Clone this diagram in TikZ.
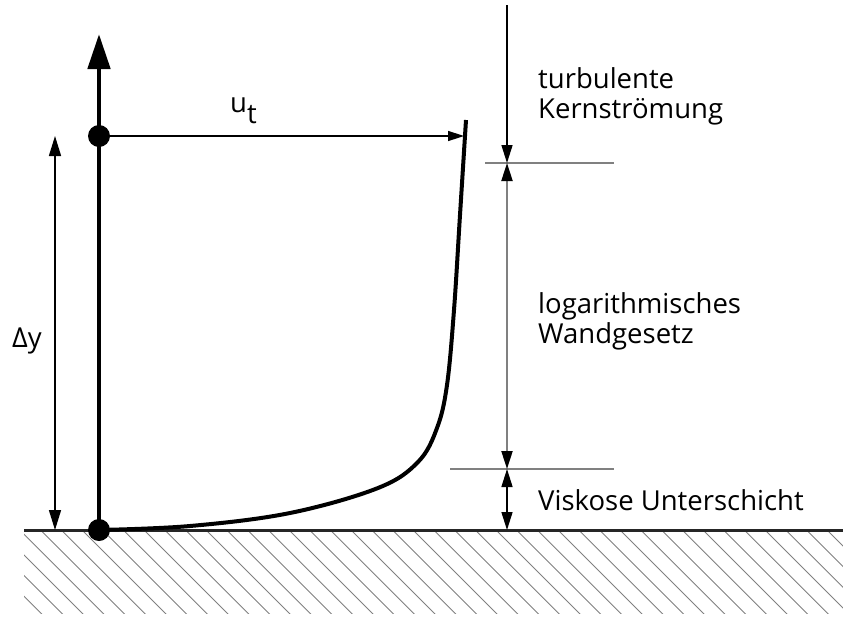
\documentclass[tikz,border=0pt]{standalone}
\usepackage{fontspec}
\setmainfont{Open Sans}
\usetikzlibrary{arrows.meta}
\begin{document}
\begin{tikzpicture}[x=1pt,y=-1pt,
  lbl/.style={anchor=base west,inner sep=0pt,font=\fontsize{27.5}{30}\selectfont},
  hatch/.style={draw=black!50,line width=0.9pt},
  wall/.style={line width=3pt,draw=black!85},
  axisline/.style={line width=4.8pt,-{Triangle[length=35pt,width=22pt]}},
  profile/.style={line width=4pt,line cap=butt},
  dimblack/.style={line width=1.5pt},
  dimgray/.style={line width=2pt,draw=black!50},
  tipA/.style={-{Triangle[length=18pt,width=11pt]}},
  tipB/.style={{Triangle[length=18pt,width=11pt]}-{Triangle[length=18pt,width=11pt]}},
  tipG/.style={{Triangle[length=18pt,width=11pt,color=black]}-{Triangle[length=18pt,width=11pt,color=black]}},
  dot/.style={circle,fill=black,inner sep=0pt,minimum size=22pt}
]
\useasboundingbox (0,0) rectangle (843,619);
% hatching
\begin{scope}
  \clip (24,531) rectangle (843,613);
  \foreach \i in {0,...,44} {
    \draw[hatch] (\i*20.7-62,531) -- ++(84,84);
  }
\end{scope}
% wall
\coordinate (wl) at (24,530);
\coordinate (wr) at (843,530);
\draw[wall] (wl) -- (wr);
% axis
\coordinate (o) at (99,530);
\coordinate (top) at (99,34);
\coordinate (p) at (99,136);
\draw[axisline] (o) -- (top);
\node[dot] (d0) at (o) {};
\node[dot] (d1) at (p) {};
% velocity arrow
\coordinate (ue) at (464,136);
\draw[dimblack,-{Triangle[length=16pt,width=10pt]}] (p) -- (ue);
\node[lbl] (ut) at (230,112) {u\raisebox{-11pt}{t}};
% profile curve
\draw[profile] plot[smooth,tension=0.6] coordinates {(99,530) (190,526) (290,513) (378,488) (418,462) (437,428) (447,385) (454,310) (460,215) (466,120)};
% delta y
\coordinate (dyt) at (55,136);
\coordinate (dyb) at (55,530);
\draw[dimblack,{Triangle[length=20pt,width=12pt]}-{Triangle[length=20pt,width=12pt]}] (dyt) -- (dyb);
\node[lbl] (dy) at (12,347) {Δy};
% right dimensions
\coordinate (rt) at (507,5);
\coordinate (r1) at (507,163);
\coordinate (r2) at (507,469);
\coordinate (r3) at (507,530);
\coordinate (h1a) at (485,163);
\coordinate (h1b) at (614,163);
\coordinate (h2a) at (450,469);
\coordinate (h2b) at (614,469);
\draw[dimgray] (h1a) -- (h1b);
\draw[dimgray] (h2a) -- (h2b);
\draw[dimblack,tipA] (rt) -- (r1);
\draw[dimgray,tipG] (r1) -- (r2);
\draw[dimblack,tipB] (r2) -- (r3);
% labels
\node[lbl] (t1) at (538,88) {turbulente};
\node[lbl] (t2) at (538,118) {Kernströmung};
\node[lbl] (t3) at (538,313) {logarithmisches};
\node[lbl] (t4) at (538,343) {Wandgesetz};
\node[lbl] (t5) at (538,510) {Viskose Unterschicht};
\end{tikzpicture}
\end{document}
